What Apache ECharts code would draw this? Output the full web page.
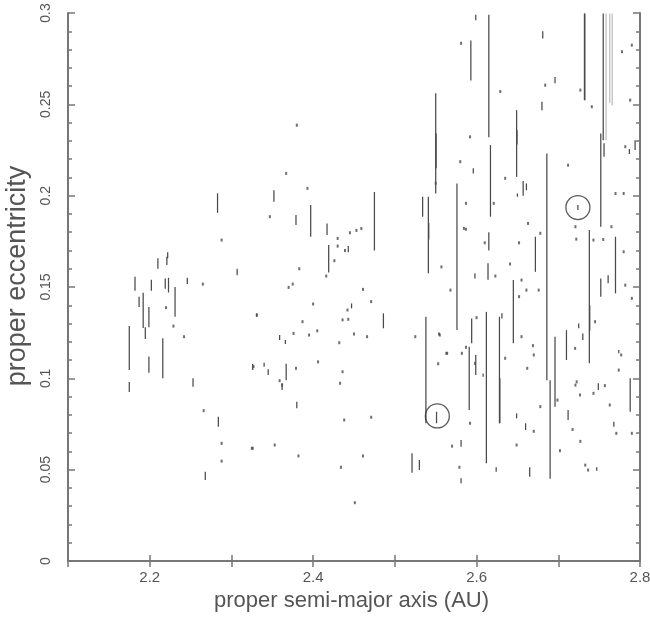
<!DOCTYPE html>
<html>
<head>
<meta charset="utf-8">
<script src="https://cdn.jsdelivr.net/npm/echarts@6/dist/echarts.min.js"></script>
<style>
html,body{margin:0;padding:0;background:#fff;}
#chart{width:650px;height:630px;}
</style>
</head>
<body>
<div id="chart"></div>
<script>
// Tick labels
const xTickLabels = [2.2, 2.4, 2.6, 2.8];
const yTickLabels = [0, 0.05, 0.1, 0.15, 0.2, 0.25, 0.3];

// Dark vertical tracks: [proper a (AU), e top, e bottom]
const darkSegments = [
  [2.175,0.1286,0.1045],[2.175,0.098,0.0925],[2.182,0.1556,0.148],[2.187,0.1447,0.139],
  [2.192,0.1469,0.1275],[2.1946,0.128,0.1215],[2.199,0.139,0.128],[2.199,0.112,0.103],
  [2.202,0.154,0.148],[2.21,0.1657,0.16],[2.216,0.1219,0.100],[2.219,0.1547,0.149],
  [2.221,0.1665,0.162],[2.222,0.169,0.1657],[2.223,0.155,0.147],[2.231,0.150,0.1337],
  [2.246,0.155,0.1516],[2.283,0.2013,0.1906],[2.307,0.160,0.1565],[2.326,0.1078,0.1045],
  [2.253,0.100,0.0954],[2.284,0.079,0.0735],[2.268,0.0489,0.0443],
  [2.352,0.203,0.1967],[2.475,0.202,0.170],[2.397,0.1949,0.1775],[2.379,0.1894,0.184],
  [2.417,0.1848,0.1784],[2.419,0.173,0.158],[2.443,0.1724,0.169],[2.447,0.141,0.1383],
  [2.331,0.1356,0.1337],[2.486,0.1356,0.1274],[2.359,0.1237,0.121],[2.366,0.121,0.1188],
  [2.34,0.1085,0.1064],[2.345,0.105,0.1018],[2.367,0.108,0.099],[2.362,0.0973,0.0936],
  [2.38,0.0872,0.0836],[2.521,0.059,0.0483],[2.53,0.0553,0.0498],
  [2.55,0.256,0.2012],[2.5505,0.234,0.215],[2.534,0.1994,0.1885],[2.541,0.1994,0.1575],
  [2.5415,0.185,0.176],[2.538,0.1337,0.0754],[2.576,0.2067,0.1264],[2.593,0.285,0.263],
  [2.599,0.299,0.296],[2.615,0.299,0.232],[2.617,0.2277,0.1885],[2.615,0.18,0.17],
  [2.614,0.163,0.154],[2.598,0.1575,0.1547],[2.594,0.1328,0.1192],[2.612,0.1364,0.0535],
  [2.628,0.1337,0.0754],[2.6285,0.1,0.0754],[2.631,0.1356,0.1328],[2.599,0.1128,0.1018],
  [2.591,0.1173,0.0826],[2.608,0.1027,0.1009],[2.581,0.0662,0.0626],[2.581,0.0453,0.0425],
  [2.624,0.0513,0.0489],[2.551,0.0817,0.0754],
  [2.681,0.29,0.286],[2.696,0.265,0.2615],[2.68,0.2514,0.2468],[2.649,0.2468,0.2103],
  [2.6495,0.236,0.228],[2.686,0.2231,0.099],[2.69,0.099,0.045],[2.661,0.2067,0.203],
  [2.657,0.208,0.200],[2.65,0.2012,0.1994],[2.596,0.215,0.2122],[2.645,0.1538,0.1192],
  [2.672,0.1775,0.1583],[2.696,0.1228,0.0845],[2.649,0.0808,0.0781],[2.66,0.0754,0.0717],
  [2.665,0.0513,0.0461],
  [2.732,0.2997,0.2523],[2.7325,0.2997,0.2523],[2.755,0.2997,0.2304],[2.752,0.234,0.183],
  [2.756,0.2287,0.2213],[2.794,0.2304,0.225],[2.787,0.2255,0.2228],[2.71,0.1264,0.110],
  [2.725,0.130,0.1274],[2.73,0.1246,0.121],[2.738,0.1812,0.1082],[2.7385,0.14,0.126],
  [2.752,0.1547,0.1447],[2.77,0.1775,0.1465],[2.761,0.1565,0.152],[2.774,0.1155,0.1137],
  [2.788,0.100,0.0817],[2.712,0.0826,0.0772],[2.747,0.0513,0.0494],[2.749,0.0973,0.0936],
  [2.768,0.0762,0.0735],[2.724,0.1949,0.1921]
];

// Faint, dotted-looking tracks
const faintSegments = [
  [2.7585,0.2997,0.2304],[2.763,0.2997,0.2507],[2.766,0.2997,0.2493]
];

// Isolated points: [proper a (AU), proper e]
const points = [
  [2.229,0.1286],[2.22,0.1387],[2.242,0.1228],[2.265,0.1516],[2.288,0.1757],[2.331,0.1346],
  [2.266,0.0823],[2.288,0.0644],[2.288,0.0547],[2.325,0.0617],
  [2.38,0.2386],[2.367,0.2122],[2.393,0.204],[2.347,0.1885],[2.43,0.1766],[2.43,0.1724],
  [2.445,0.1797],[2.453,0.181],[2.459,0.182],[2.439,0.17],[2.426,0.1644],[2.416,0.156],
  [2.383,0.16],[2.375,0.1516],[2.37,0.1498],[2.461,0.1487],[2.471,0.142],[2.4,0.1407],
  [2.442,0.1374],[2.387,0.131],[2.436,0.132],[2.443,0.1323],[2.525,0.1228],[2.554,0.1243],
  [2.564,0.1137],[2.553,0.108],[2.376,0.1246],[2.395,0.1237],[2.405,0.126],[2.45,0.1243],
  [2.466,0.1228],[2.432,0.1195],[2.327,0.1064],[2.379,0.1055],[2.359,0.0987],[2.406,0.109],
  [2.436,0.1036],[2.433,0.0973],[2.362,0.0963],[2.438,0.0772],[2.471,0.0787],[2.326,0.0617],
  [2.353,0.0635],[2.382,0.0575],[2.434,0.0513],[2.461,0.0575],[2.451,0.0319],
  [2.55,0.2068],[2.581,0.2834],[2.592,0.2322],[2.629,0.257],[2.58,0.2186],[2.587,0.1958],
  [2.5845,0.1821],[2.557,0.161],[2.568,0.1483],[2.621,0.1958],[2.61,0.1742],[2.587,0.1816],
  [2.623,0.156],[2.635,0.2095],[2.587,0.117],[2.582,0.1137],[2.563,0.1137],[2.592,0.0754],
  [2.57,0.0629],[2.579,0.0513],[2.598,0.1082],[2.555,0.1237],
  [2.684,0.2605],[2.712,0.2167],[2.663,0.1848],[2.678,0.1794],[2.652,0.1742],[2.661,0.1483],
  [2.652,0.1447],[2.641,0.1626],[2.676,0.1483],[2.655,0.1538],[2.655,0.1228],[2.669,0.1179],
  [2.662,0.1055],[2.67,0.1128],[2.635,0.111],[2.6,0.1332],[2.649,0.0635],[2.67,0.071],
  [2.678,0.0845],[2.699,0.0881],[2.702,0.0604],[2.7175,0.072],
  [2.727,0.2578],[2.741,0.2487],[2.79,0.2824],[2.778,0.2788],[2.788,0.2523],[2.782,0.2268],
  [2.77,0.2012],[2.78,0.2012],[2.721,0.183],[2.722,0.1762],[2.745,0.131],[2.743,0.1757],
  [2.755,0.176],[2.765,0.183],[2.78,0.1693],[2.782,0.151],[2.79,0.1438],[2.7206,0.1164],
  [2.777,0.1128],[2.774,0.1045],[2.757,0.096],[2.7266,0.0909],[2.721,0.0963],[2.743,0.0918],
  [2.763,0.0854],[2.771,0.0699],[2.79,0.0699],[2.727,0.0655],[2.733,0.0525],[2.7365,0.0498],
  [2.7225,0.0981]
];

// Circled objects
const circledObjects = [[2.552, 0.0794], [2.724, 0.1935]];

function segItem(color, width) {
  return function (params, api) {
    const p1 = api.coord([api.value(0), api.value(1)]);
    const p2 = api.coord([api.value(0), api.value(2)]);
    return {
      type: 'line',
      shape: { x1: p1[0], y1: p1[1], x2: p2[0], y2: p2[1] },
      style: { stroke: color, lineWidth: width }
    };
  };
}

const axisColor = '#777';
const labelColor = '#555';
const font = 'Liberation Sans, Arial, sans-serif';

const chart = echarts.init(document.getElementById('chart'), null, { renderer: 'canvas' });
chart.setOption({
  animation: false,
  backgroundColor: '#fff',
  grid: { left: 68, right: 10, top: 13, bottom: 69, containLabel: false, outerBoundsMode: 'none' },
  xAxis: [
    {
      type: 'value', min: 2.1, max: 2.8, interval: 0.1, position: 'bottom',
      name: 'proper semi-major axis (AU)', nameLocation: 'middle', nameGap: 29,
      nameTextStyle: { fontFamily: font, fontSize: 22, color: labelColor, padding: [0, 5, 0, 0] },
      axisLine: { lineStyle: { color: axisColor, width: 2 } },
      axisTick: { inside: true, length: 6, lineStyle: { color: axisColor, width: 1.5 } },
      axisLabel: {
        margin: 9, color: labelColor, fontFamily: font, fontSize: 15,
        formatter: function (v) {
          const r = Math.round(v * 10) / 10;
          return xTickLabels.some(t => Math.abs(t - r) < 1e-6) ? r.toFixed(1) : '';
        }
      },
      splitLine: { show: false }
    },
    {
      type: 'value', min: 2.1, max: 2.8, interval: 0.1, position: 'top',
      axisLine: { lineStyle: { color: axisColor, width: 2 } },
      axisTick: { inside: true, length: 6, lineStyle: { color: axisColor, width: 1.5 } },
      axisLabel: { show: false }, splitLine: { show: false }
    }
  ],
  yAxis: [
    {
      type: 'value', min: 0, max: 0.3, interval: 0.05, position: 'left',
      name: 'proper eccentricity', nameLocation: 'middle', nameGap: 34,
      nameTextStyle: { fontFamily: font, fontSize: 27, color: labelColor, padding: [0, 0, 0, 22] },
      axisLine: { lineStyle: { color: axisColor, width: 2 } },
      axisTick: { inside: true, length: 7, lineStyle: { color: axisColor, width: 1.5 } },
      minorTick: { show: true, splitNumber: 5, length: 4, lineStyle: { color: axisColor, width: 1.5 } },
      axisLabel: {
        rotate: 90, margin: 15, color: labelColor, fontFamily: font, fontSize: 14,
        formatter: function (v) {
          const r = Math.round(v * 100) / 100;
          return yTickLabels.some(t => Math.abs(t - r) < 1e-6) ? String(r) : '';
        }
      },
      splitLine: { show: false }, minorSplitLine: { show: false }
    },
    {
      type: 'value', min: 0, max: 0.3, interval: 0.05, position: 'right',
      axisLine: { show: true, lineStyle: { color: axisColor, width: 2 } },
      axisTick: { show: true, inside: true, length: 7, lineStyle: { color: axisColor, width: 1.5 } },
      minorTick: { show: true, splitNumber: 5, length: 4, lineStyle: { color: axisColor, width: 1.5 } },
      axisLabel: { show: false }, splitLine: { show: false }
    }
  ],
  series: [
    {
      type: 'custom', xAxisIndex: 0, yAxisIndex: 0,
      renderItem: segItem('rgba(120,120,120,0.5)', 1.2),
      encode: { x: 0, y: [1, 2] },
      data: faintSegments
    },
    {
      type: 'custom', xAxisIndex: 0, yAxisIndex: 0,
      renderItem: segItem('#4a4a4a', 1.25),
      encode: { x: 0, y: [1, 2] },
      data: darkSegments
    },
    {
      type: 'scatter', xAxisIndex: 0, yAxisIndex: 0,
      symbol: 'rect', symbolSize: [2, 3],
      itemStyle: { color: '#4a4a4a' },
      data: points
    },
    {
      type: 'scatter', xAxisIndex: 0, yAxisIndex: 0,
      symbol: 'circle', symbolSize: 24,
      itemStyle: { color: 'rgba(0,0,0,0)', borderColor: '#333', borderWidth: 1.3 },
      data: circledObjects
    }
  ]
});
</script>
</body>
</html>
